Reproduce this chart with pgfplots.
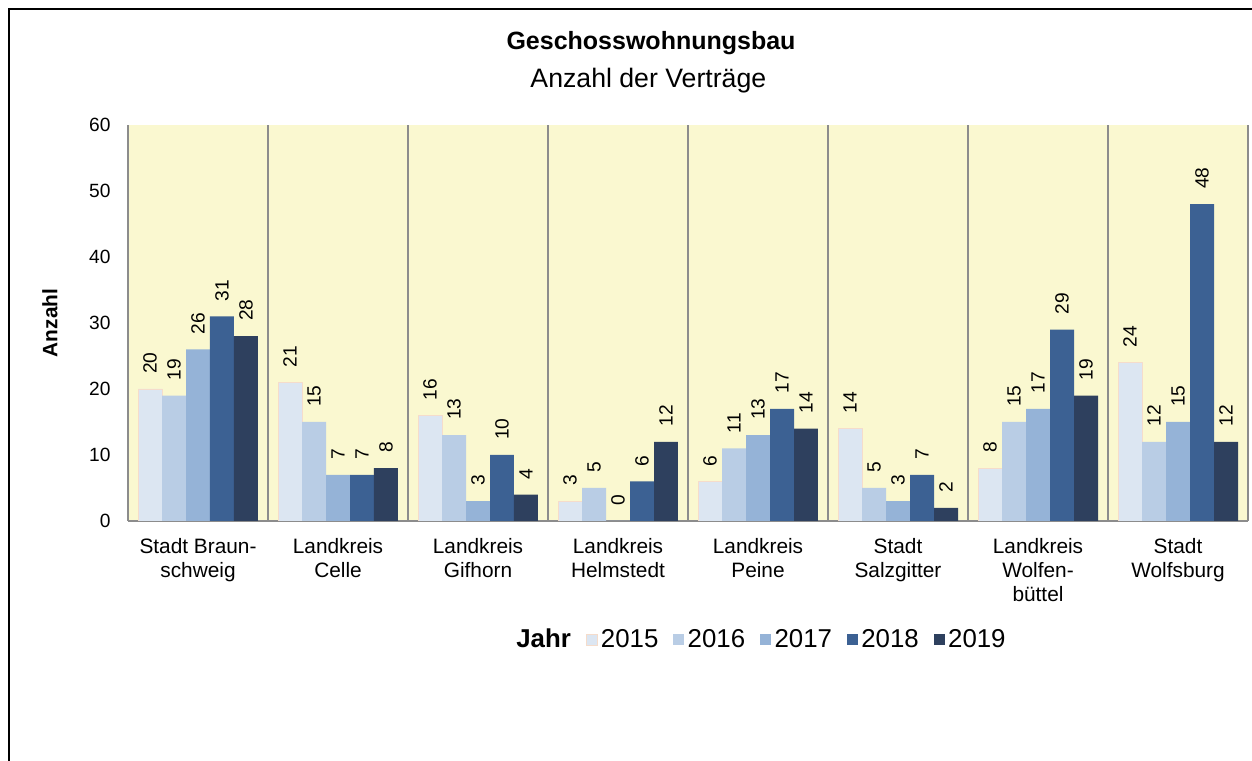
\documentclass[border=0pt]{standalone}
\usepackage{fontspec}
\setmainfont{Liberation Sans}
\usepackage{pgfplots}
\pgfplotsset{compat=1.18}

\definecolor{bgyellow}{HTML}{FAF8D0}
\definecolor{gridgray}{HTML}{8C8C8C}
\definecolor{ca}{HTML}{DCE6F2}
\definecolor{caedge}{HTML}{F5DCCB}
\definecolor{cb}{HTML}{B9CDE5}
\definecolor{cc}{HTML}{95B3D7}
\definecolor{cd}{HTML}{3C6193}
\definecolor{ce}{HTML}{2E405E}

\begin{document}
\begin{tikzpicture}
\useasboundingbox (0,0) rectangle (751.2pt,456.6pt);
\draw[line width=1.2pt] (5.4pt,0) -- (5.4pt,451.2pt) -- (751.2pt,451.2pt);

\begin{axis}[
  at={(76.8pt,144pt)}, anchor=south west,
  width=672pt, height=237.6pt, scale only axis,
  ybar=0pt, bar width=0.1714,
  ymin=0, ymax=60, ytick={0,10,...,60},
  xmin=-0.5, xmax=7.5,
  xtick={0,...,7},
  xticklabels={{Stadt Braun-\\schweig},{Landkreis\\Celle},{Landkreis\\Gifhorn},
    {Landkreis\\Helmstedt},{Landkreis\\Peine},{Stadt\\Salzgitter},
    {Landkreis\\Wolfen-\\büttel},{Stadt\\Wolfsburg}},
  xticklabel style={align=center, font=\fontsize{12.5}{14.4}\selectfont, yshift=-7pt},
  yticklabel style={font=\fontsize{11.5}{13}\selectfont, xshift=-7pt},
  /pgf/number format/assume math mode=true,
  major tick length=0pt, minor tick length=0pt,
  minor xtick={-0.5,0.5,...,7.5},
  xminorgrids=true,
  minor grid style={gridgray, line width=0.8pt},
  axis x line*=bottom, axis y line*=left,
  axis line style={-, gridgray, line width=0.8pt},
  axis background/.style={fill=bgyellow},
  ylabel={\textbf{Anzahl}},
  ylabel style={at={(axis description cs:-0.0696,0.5)}, anchor=center,
    font=\fontsize{12.5}{14}\selectfont},
  nodes near coords,
  every node near coord/.append style={rotate=90, anchor=west,
    font=\fontsize{11.5}{13}\selectfont, inner xsep=9pt, inner ysep=2pt, color=black},
  legend style={at={(axis description cs:0.339,-0.30)}, anchor=west,
    draw=none, fill=none, font=\fontsize{15.5}{18}\selectfont,
    /tikz/every even column/.append style={column sep=7pt}},
  legend columns=-1,
  legend image code/.code={\fill[#1] (0pt,-3.3pt) rectangle (6.6pt,3.3pt);},
]
\addlegendimage{empty legend}
\addlegendentry{\textbf{Jahr}\hspace{14pt}}
\addplot[fill=ca, draw=caedge, bar shift=-0.3428] coordinates
  {(0,20) (1,21) (2,16) (3,3) (4,6) (5,14) (6,8) (7,24)};
\addlegendentry{2015}
\addplot[fill=cb, draw=none, bar shift=-0.1714] coordinates
  {(0,19) (1,15) (2,13) (3,5) (4,11) (5,5) (6,15) (7,12)};
\addlegendentry{2016}
\addplot[fill=cc, draw=none, bar shift=0] coordinates
  {(0,26) (1,7) (2,3) (3,0) (4,13) (5,3) (6,17) (7,15)};
\addlegendentry{2017}
\addplot[fill=cd, draw=none, bar shift=0.1714] coordinates
  {(0,31) (1,7) (2,10) (3,6) (4,17) (5,7) (6,29) (7,48)};
\addlegendentry{2018}
\addplot[fill=ce, draw=none, bar shift=0.3428] coordinates
  {(0,28) (1,8) (2,4) (3,12) (4,14) (5,2) (6,19) (7,12)};
\addlegendentry{2019}
\end{axis}

\node[font=\bfseries\fontsize{15}{17}\selectfont] at (390.6pt,430.5pt) {Geschosswohnungsbau};
\node[font=\fontsize{16}{18}\selectfont] at (389pt,408pt) {Anzahl der Verträge};
\end{tikzpicture}
\end{document}
